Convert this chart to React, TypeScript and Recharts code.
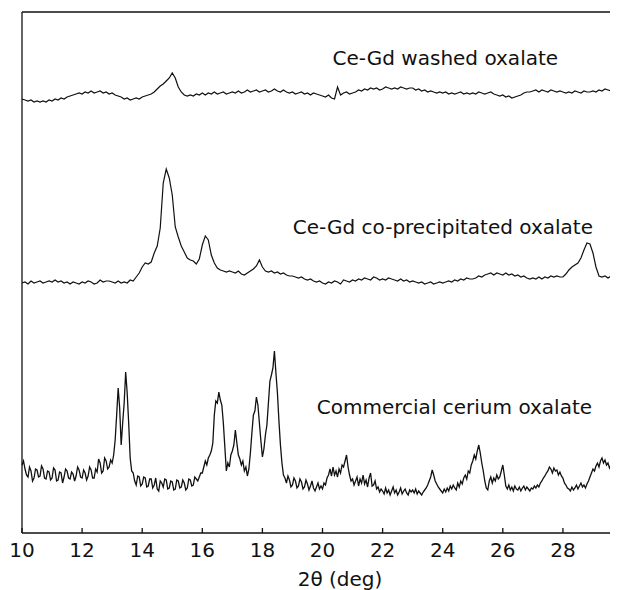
import { Line, LineChart, ReferenceDot, ReferenceLine, XAxis, YAxis } from 'recharts'

// 2θ scan grids
const ANGLES = Array.from({ length: 198 }, (_, i) => Math.round((10 + i * 0.1) * 10) / 10)
const FINE_ANGLES = Array.from({ length: 395 }, (_, i) => Math.round((10 + i * 0.05) * 100) / 100)
const X_TICKS = [10, 12, 14, 16, 18, 20, 22, 24, 26, 28]

// intensities (arbitrary units, traces offset vertically)
const WASHED = [
  434, 433, 432, 433, 431, 432, 431, 432, 431, 433,
  432, 434, 433, 435, 434, 436, 437, 438, 439, 440,
  439, 441, 440, 442, 440, 441, 442, 440, 441, 439,
  440, 438, 437, 436, 434, 435, 433, 434, 435, 434,
  436, 437, 438, 439, 441, 444, 447, 449, 452, 455,
  460, 455, 446, 441, 438, 437, 438, 437, 439, 438,
  440, 438, 440, 439, 441, 439, 440, 441, 439, 440,
  441, 440, 442, 440, 441, 443, 441, 442, 443, 441,
  442, 443, 441, 442, 444, 442, 441, 443, 441, 440,
  441, 439, 440, 441, 439, 440, 438, 440, 439, 438,
  437, 436, 438, 435, 434, 446, 438, 440, 441, 439,
  440, 441, 443, 442, 444, 443, 445, 444, 445, 443,
  444, 446, 445, 444, 445, 444, 446, 445, 444, 445,
  445, 443, 444, 442, 443, 441, 442, 441, 440, 441,
  440, 441, 439, 440, 439, 440, 441, 439, 440, 439,
  440, 439, 441, 440, 439, 440, 441, 439, 438, 437,
  438, 436, 437, 435, 436, 437, 438, 440, 441, 441,
  442, 443, 441, 443, 442, 441, 443, 442, 441, 442,
  441, 440, 441, 440, 442, 441, 440, 442, 441, 441,
  442, 441, 443, 442, 444, 443, 442, 443,
]

const COPRECIPITATED = [
  250, 251, 249, 252, 250, 251, 252, 250, 251, 252,
  251, 253, 251, 252, 250, 251, 249, 251, 250, 249,
  251, 250, 252, 251, 249, 250, 253, 251, 252, 252,
  251, 250, 252, 250, 251, 250, 253, 252, 256, 260,
  266, 270, 269, 271, 280, 287, 305, 350, 364, 355,
  338, 306, 296, 287, 281, 275, 273, 272, 269, 274,
  288, 297, 293, 278, 270, 265, 263, 262, 261, 262,
  261, 260, 262, 259, 258, 260, 262, 264, 267, 273,
  266, 262, 261, 262, 260, 261, 259, 260, 258, 257,
  257, 256, 255, 256, 254, 253, 254, 252, 251, 252,
  250, 249, 251, 250, 252, 251, 249, 253, 252, 251,
  253, 252, 254, 253, 255, 254, 253, 256, 255, 253,
  254, 253, 255, 254, 253, 252, 254, 252, 253, 251,
  252, 251, 250, 251, 249, 250, 251, 249, 250, 251,
  250, 251, 252, 251, 253, 252, 254, 253, 255, 254,
  254, 255, 257, 256, 258, 259, 260, 258, 260, 259,
  258, 260, 258, 259, 257, 258, 256, 257, 255, 254,
  255, 254, 256, 254, 256, 255, 257, 256, 257, 256,
  256, 259, 263, 266, 268, 270, 275, 283, 290, 289,
  280, 266, 257, 256, 257, 255, 257, 256,
]

// commercial sample read at 0.05 deg (one row per degree)
const COMMERCIAL = [
  68, 72, 64, 58, 56, 66, 62, 52, 55, 64, 63, 56, 57, 67, 64, 55, 54, 62, 61, 53,
  55, 65, 63, 52, 53, 61, 60, 50, 56, 64, 62, 55, 54, 61, 59, 52, 57, 66, 63, 56,
  55, 63, 60, 53, 57, 66, 63, 55, 55, 64, 61, 74, 70, 60, 62, 75, 72, 64, 66, 73,
  70, 78, 93, 118, 145, 125, 88, 110, 130, 161, 140, 110, 75, 62, 60, 52, 48, 57, 56, 47,
  49, 56, 55, 46, 47, 54, 54, 45, 48, 55, 44, 42, 52, 50, 46, 54, 53, 44, 45, 52,
  51, 43, 44, 53, 52, 45, 46, 53, 50, 43, 45, 54, 53, 47, 48, 56, 54, 52, 56, 60,
  60, 66, 72, 68, 75, 78, 82, 90, 118, 132, 130, 141, 133, 128, 110, 86, 62, 70, 66, 78,
  82, 88, 103, 90, 78, 74, 68, 72, 62, 66, 57, 64, 80, 100, 118, 122, 136, 128, 110, 92,
  76, 84, 98, 108, 130, 152, 158, 165, 182, 160, 140, 112, 88, 70, 58, 55, 50, 57, 53, 46,
  48, 55, 52, 45, 47, 54, 51, 44, 46, 53, 49, 43, 47, 52, 45, 42, 46, 50, 44, 47,
  44, 50, 48, 55, 58, 64, 57, 66, 58, 62, 56, 64, 60, 68, 66, 72, 78, 66, 58, 52,
  54, 48, 52, 56, 47, 54, 50, 58, 49, 53, 46, 55, 60, 47, 48, 52, 44, 46, 41, 44,
  42, 39, 45, 40, 43, 38, 42, 46, 40, 43, 38, 41, 45, 39, 42, 44, 40, 38, 43, 41,
  43, 40, 44, 39, 42, 40, 38, 41, 43, 45, 48, 52, 56, 63, 58, 52, 49, 46, 44, 42,
  40, 44, 41, 45, 42, 47, 44, 48, 45, 43, 50, 46, 52, 49, 55, 58, 54, 62, 60, 68,
  72, 78, 74, 82, 88, 80, 70, 62, 52, 45, 43, 52, 56, 50, 55, 52, 58, 54, 56, 62,
  68, 58, 47, 44, 48, 43, 46, 42, 47, 44, 43, 46, 42, 45, 47, 43, 46, 44, 42, 45,
  44, 47, 45, 48, 46, 50, 52, 55, 57, 60, 62, 66, 64, 60, 65, 62, 63, 58, 61, 57,
  55, 50, 48, 45, 44, 42, 46, 43, 45, 48, 44, 47, 50, 46, 48, 45, 49, 52, 56, 60,
  64, 62, 67, 70, 66, 72, 75, 70, 73, 68, 70, 65, 68, 62, 64,
]

const LABELS = [
  { text: 'Ce-Gd washed oxalate', angle: 27.84, level: 475 },
  { text: 'Ce-Gd co-precipitated oxalate', angle: 29.0, level: 306 },
  { text: 'Commercial cerium oxalate', angle: 28.97, level: 126 },
]

const FONT = '"DejaVu Sans", sans-serif'
const INK = '#111'

const rows = ANGLES.map((angle, i) => ({
  angle,
  washed: WASHED[i],
  coprecipitated: COPRECIPITATED[i],
}))
const commercialRows = FINE_ANGLES.map((angle, i) => ({ angle, commercial: COMMERCIAL[i] }))

function AngleTick({ x, y, payload }: any) {
  return (
    <g>
      <line x1={x} y1={y} x2={x} y2={y - 5} stroke={INK} strokeWidth={1.3} />
      <text x={x} y={y + 24} textAnchor="middle" fontSize={20} fill={INK} fontFamily={FONT}>
        {payload.value}
      </text>
    </g>
  )
}

function AxisTitle({ viewBox }: any) {
  const cx = viewBox.x + viewBox.width / 2 + 22
  return (
    <text x={cx} y={viewBox.y + 53} textAnchor="middle" fontSize={20} fill={INK} fontFamily={FONT}>
      2θ (deg)
    </text>
  )
}

export default function App() {
  return (
    <LineChart width={610} height={582} data={rows} margin={{ top: 4, right: 4, left: 14, bottom: 0 }}>
      <XAxis
        dataKey="angle"
        type="number"
        domain={[10, 29.7]}
        ticks={X_TICKS}
        interval={0}
        height={57}
        tickSize={0}
        tickMargin={0}
        tickLine={false}
        axisLine={{ stroke: INK, strokeWidth: 1.5 }}
        tick={<AngleTick />}
        label={<AxisTitle />}
      />
      <YAxis hide type="number" domain={[0, 521]} />
      <ReferenceLine y={521} stroke={INK} strokeWidth={1.3} />
      <ReferenceLine x={10} stroke={INK} strokeWidth={1.3} />
      <ReferenceLine x={29.7} stroke={INK} strokeWidth={1.3} />
      <Line type="linear" dataKey="washed" stroke={INK} strokeWidth={1.2} dot={false} isAnimationActive={false} />
      <Line type="linear" dataKey="coprecipitated" stroke={INK} strokeWidth={1.2} dot={false} isAnimationActive={false} />
      <Line
        type="linear"
        data={commercialRows}
        dataKey="commercial"
        stroke={INK}
        strokeWidth={1.3}
        dot={false}
        isAnimationActive={false}
      />
      {LABELS.map(l => (
        <ReferenceDot
          key={l.text}
          x={l.angle}
          y={l.level}
          r={0}
          fill="none"
          stroke="none"
          label={{ value: l.text, position: 'left', offset: 0, fontSize: 20, fill: INK, fontFamily: FONT }}
        />
      ))}
    </LineChart>
  )
}
